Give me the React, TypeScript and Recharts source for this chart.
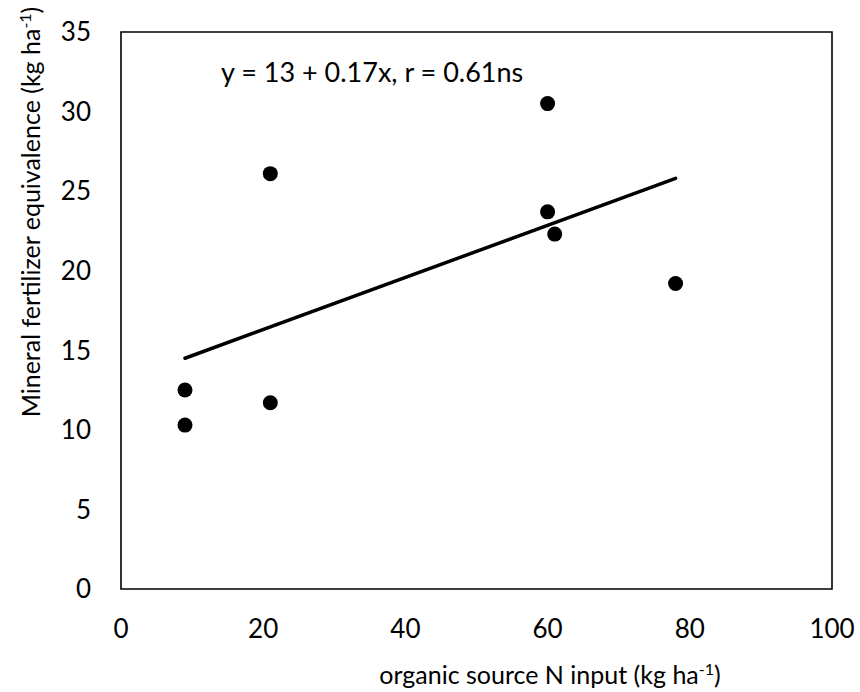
import React from 'react';
import { ScatterChart, Scatter, XAxis, YAxis, ReferenceArea, ReferenceLine } from 'recharts';

// organic source N input (kg/ha) and mineral fertilizer equivalence (kg/ha)
const nInput = [9, 9, 21, 21, 60, 60, 61, 78];
const mfe = [12.5, 10.3, 26.1, 11.7, 30.5, 23.7, 22.3, 19.2];

// fitted line end points
const trendX = [9, 78];
const trendY = [14.5, 25.8];

const xTicks = [0, 20, 40, 60, 80, 100];
const yTicks = [0, 5, 10, 15, 20, 25, 30, 35];

const points = nInput.map((x, i) => ({ x, y: mfe[i] }));
const trendSegment = trendX.map((x, i) => ({ x, y: trendY[i] }));

const FONT = 'Lato, "Open Sans", sans-serif';
const FS = 25;
const TICK_FS = 26;

const Dot = (props: any) => <circle cx={props.cx} cy={props.cy} r={7.5} fill="#000" />;

const YLabel = () => (
  <text
    x={0}
    y={0}
    transform="translate(40, 212) rotate(-90)"
    textAnchor="middle"
    fontFamily={FONT}
    fontSize={FS}
    fill="#000"
  >
    Mineral fertilizer equivalence (kg ha
    <tspan dy={-9} fontSize={16}>-1</tspan>
    <tspan dy={9}>)</tspan>
  </text>
);

const XLabel = () => (
  <text x={550} y={684} textAnchor="middle" fontFamily={FONT} fontSize={FS} fill="#000">
    organic source N input (kg ha
    <tspan dy={-9} fontSize={16}>-1</tspan>
    <tspan dy={9}>)</tspan>
  </text>
);

export default function App() {
  return (
    <div style={{ position: 'relative', width: 860, height: 692, background: '#fff' }}>
      <style>{'body{margin:0}'}</style>
      <ScatterChart
        width={860}
        height={692}
        margin={{ top: 32, right: 28, bottom: 0, left: 0 }}
        style={{ overflow: 'visible' }}
      >
        <XAxis
          type="number"
          dataKey="x"
          domain={[0, 100]}
          ticks={xTicks}
          axisLine={false}
          tickLine={false}
          tickSize={0}
          tickMargin={31}
          height={103}
          tick={{ fill: '#000', fontSize: TICK_FS, fontFamily: FONT }}
          label={<XLabel />}
        />
        <YAxis
          type="number"
          dataKey="y"
          domain={[0, 35]}
          ticks={yTicks}
          axisLine={false}
          tickLine={false}
          tickSize={0}
          tickMargin={30}
          width={121}
          tick={{ fill: '#000', fontSize: TICK_FS, fontFamily: FONT }}
          label={<YLabel />}
        />
        <ReferenceArea x1={0} x2={100} y1={0} y2={35} fill="none" stroke="#000" strokeWidth={1.6} />
        <ReferenceLine segment={trendSegment} stroke="#000" strokeWidth={3.5} strokeLinecap="round" />
        <Scatter data={points} shape={Dot} isAnimationActive={false} />
      </ScatterChart>
      <div
        style={{
          position: 'absolute',
          left: 221,
          top: 55,
          fontFamily: FONT,
          fontSize: 27,
          color: '#000',
          whiteSpace: 'nowrap',
          lineHeight: '34px',
        }}
      >
        y = 13 + 0.17x, r = 0.61ns
      </div>
    </div>
  );
}
